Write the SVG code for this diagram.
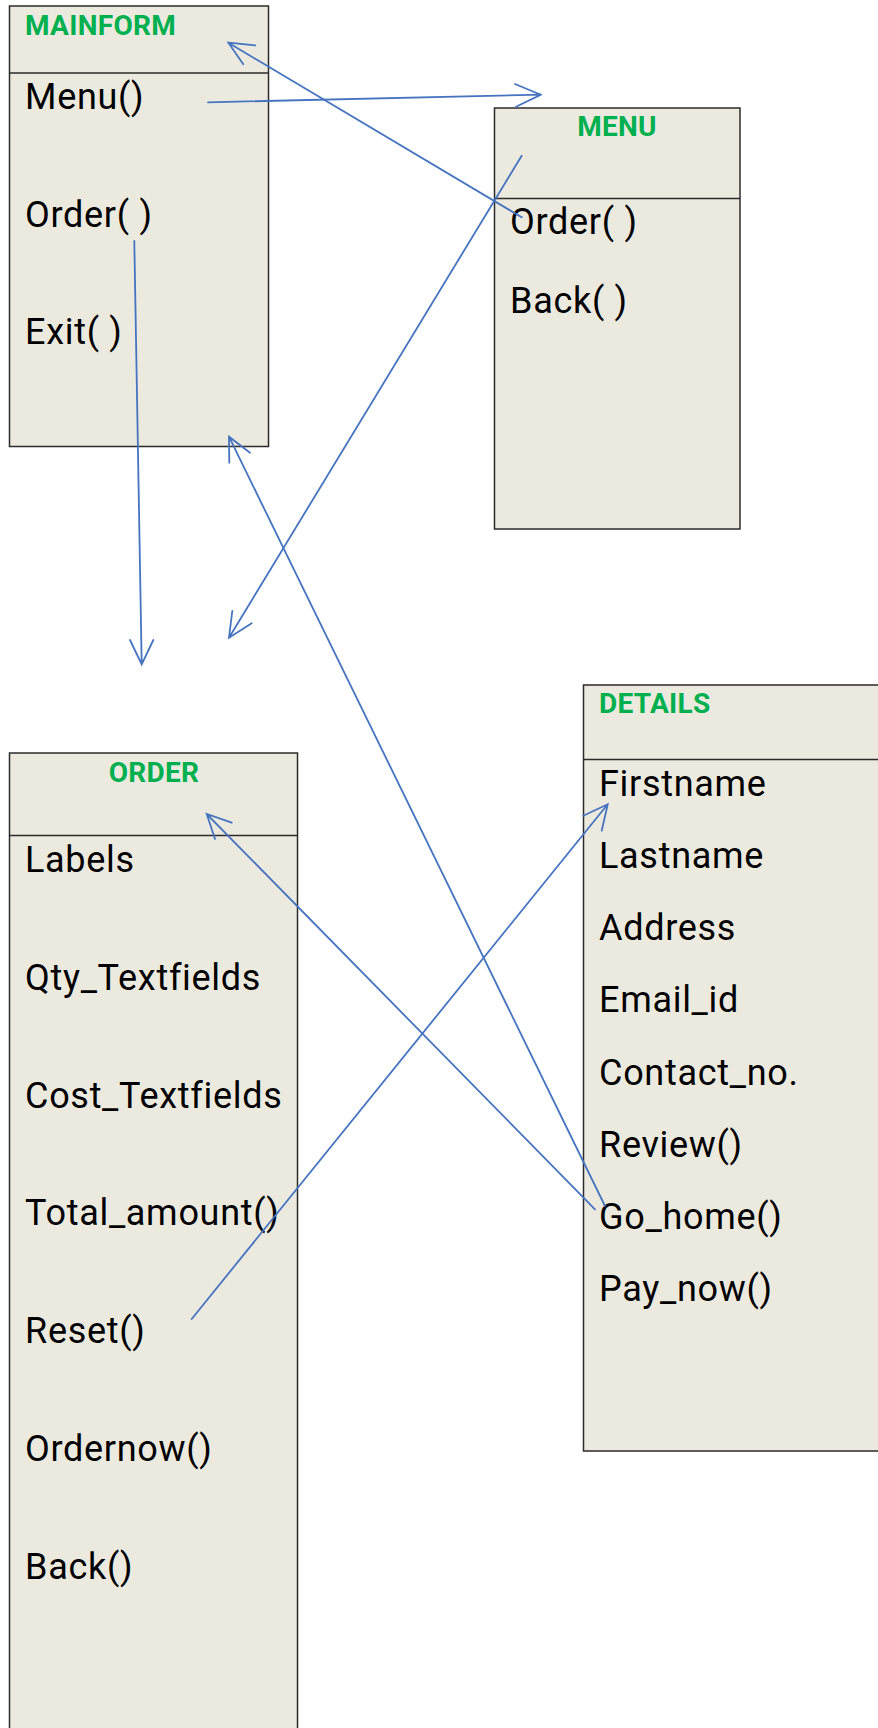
<svg xmlns="http://www.w3.org/2000/svg" width="878" height="1728" viewBox="0 0 878 1728">
<style>
.box{fill:#ECEADF;stroke:#2b2b2b;stroke-width:1.5}
.div{stroke:#2b2b2b;stroke-width:1.5}
.ttl{font-family:Roboto,"Liberation Sans",sans-serif;font-weight:bold;font-size:28px;fill:#00B050;letter-spacing:0.3px}
.it{font-family:Roboto,"Liberation Sans",sans-serif;font-size:36px;fill:#000;letter-spacing:0.7px}
.con{stroke:#4674C1;stroke-width:1.8;fill:none;stroke-linecap:round}
</style>
<rect width="878" height="1728" fill="#fff"/>
<g id="mainform">
<rect class="box" x="9.5" y="6" width="259" height="440.5"/>
<line class="div" x1="9.5" y1="73" x2="268.5" y2="73"/>
<text class="ttl" x="25" y="35">MAINFORM</text>
<text class="it" x="25" y="109">Menu()</text>
<text class="it" x="25" y="227">Order( )</text>
<text class="it" x="25" y="344">Exit( )</text>
</g>
<g id="menu">
<rect class="box" x="494.5" y="108" width="245.5" height="421"/>
<line class="div" x1="494.5" y1="198.5" x2="740" y2="198.5"/>
<text class="ttl" x="617" y="136" text-anchor="middle">MENU</text>
<text class="it" x="510" y="234">Order( )</text>
<text class="it" x="510" y="313">Back( )</text>
</g>
<g id="order">
<rect class="box" x="9.5" y="753" width="288" height="990"/>
<line class="div" x1="9.5" y1="835.5" x2="297.5" y2="835.5"/>
<text class="ttl" x="154" y="782" text-anchor="middle">ORDER</text>
<text class="it" x="25" y="872">Labels</text>
<text class="it" x="25" y="990">Qty_Textfields</text>
<text class="it" x="25" y="1108">Cost_Textfields</text>
<text class="it" x="25" y="1225">Total_amount()</text>
<text class="it" x="25" y="1343">Reset()</text>
<text class="it" x="25" y="1461">Ordernow()</text>
<text class="it" x="25" y="1579">Back()</text>
</g>
<g id="details">
<rect class="box" x="583.5" y="685" width="320" height="766"/>
<line class="div" x1="583.5" y1="759.5" x2="878" y2="759.5"/>
<text class="ttl" x="599" y="713">DETAILS</text>
<text class="it" x="599" y="796">Firstname</text>
<text class="it" x="599" y="868">Lastname</text>
<text class="it" x="599" y="940">Address</text>
<text class="it" x="599" y="1012">Email_id</text>
<text class="it" x="599" y="1085">Contact_no.</text>
<text class="it" x="599" y="1157">Review()</text>
<text class="it" x="599" y="1229">Go_home()</text>
<text class="it" x="599" y="1301">Pay_now()</text>
</g>
<g id="connectors">
<path class="con" d="M208 102.3 L540.7 94.7 M515 84 L540.7 94.7 L516 106.7"/>
<path class="con" d="M521.7 217.3 L228.3 42.7 M255.3 45.3 L228.3 42.7 L243.3 64.3"/>
<path class="con" d="M521.7 155.7 L229 637.7 M232.3 611 L229 637.7 L251.7 623.3"/>
<path class="con" d="M134.3 241 L141.7 664.3 M130 640 L141.7 664.3 L153.3 640"/>
<path class="con" d="M605 1206 L229 436.7 M229.3 462.7 L229 436.7 L250 452.7"/>
<path class="con" d="M595 1209.3 L206.7 814 M231.7 822.7 L206.7 814 L215 839"/>
<path class="con" d="M191.7 1319 L607.7 804.3 M583.3 815.7 L607.7 804.3 L601.7 830.7"/>
</g>
</svg>
